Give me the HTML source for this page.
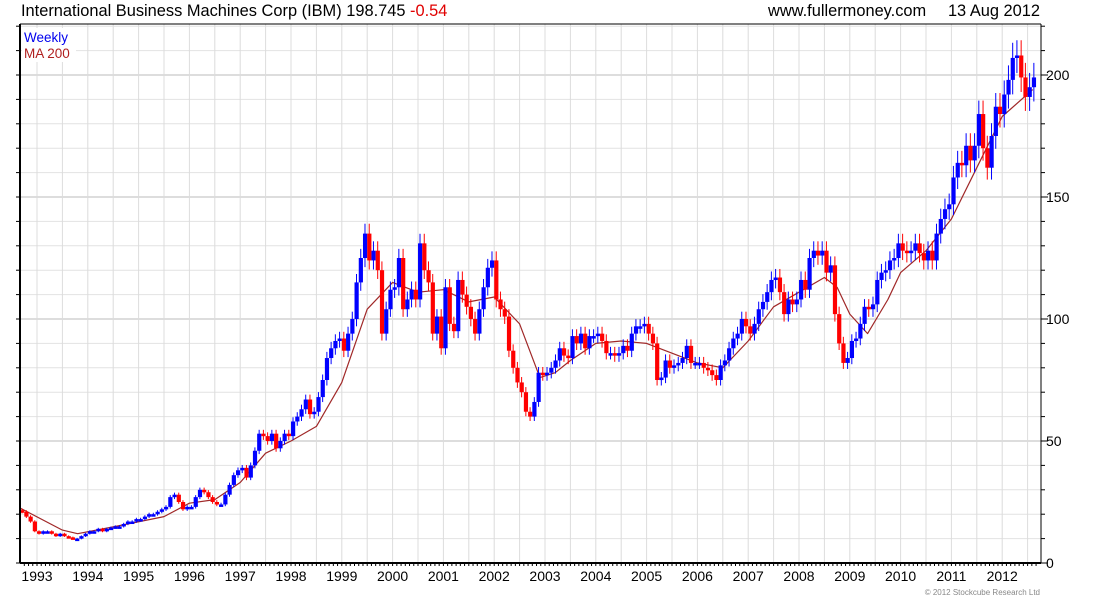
<!DOCTYPE html>
<html><head><meta charset="utf-8"><style>
body{margin:0;background:#fff;width:1100px;height:600px;overflow:hidden;font-family:"Liberation Sans",sans-serif}
svg{display:block}
</style></head><body>
<svg id="chart" width="1100" height="600" xmlns="http://www.w3.org/2000/svg">
<text x="21" y="16" font-size="16.4" fill="#000">International Business Machines Corp (IBM) 198.745 <tspan fill="#e00000">-0.54</tspan></text>
<text x="768" y="16" font-size="16.4" fill="#000">www.fullermoney.com</text>
<text x="1040" y="16" font-size="16.4" fill="#000" text-anchor="end">13 Aug 2012</text>
<g id="grid"></g>
<g id="ma"></g>
<g id="bars"></g>
<g id="axes"></g>
<rect x="22" y="28" width="54" height="34" fill="#fff"/>
<text x="24" y="42" font-size="13.5" fill="#0000ee">Weekly</text>
<text x="24" y="58" font-size="13.5" fill="#b02020">MA 200</text>
<text x="1040" y="595" font-size="8" fill="#888" text-anchor="end">© 2012 Stockcube Research Ltd</text>
</svg>
<script>
// monthly closes Sep 1992 .. Aug 2012
const closes = [
21,19,17,13,
12,13,13,12,11,12,11,10.5,10,10,11,12,
13,13,14,13,14,14.5,15,15,16,17,17,18,
18,19,20,20,21,22,23,27,28,25,22,23,
23,27,30,29,27,25,24,24,28,32,36,38,
39,35,40,46,53,52,50,53,47,50,53,52,
58,60,63,67,61,62,68,75,84,88,91,92,
87,94,100,115,125,135,124,128,120,94,104,112,
113,125,104,108,112,108,131,120,115,94,101,88,
113,98,95,116,110,105,100,94,104,113,121,124,
108,104,101,87,80,74,70,62,60,66,78,77,
78,80,83,88,85,84,93,90,94,88,93,93,
94,91,86,86,85,86,89,87,94,97,97,98,
94,90,75,76,83,80,81,82,84,89,82,82,
82,80,79,77,75,81,83,88,92,94,100,97,
94,98,104,107,111,116,117,111,102,108,106,108,
116,112,125,128,126,128,119,122,102,90,82,84,
91,92,98,105,104,106,116,119,120,124,125,131,
128,127,128,131,127,124,128,124,135,141,145,147,
158,164,163,171,165,171,184,170,162,175,187,184,
192,198,207,208,199,191,195,199];
const startYear = 1992.667;
const maDates = [1992.67,1993.5,1993.8,1994.5,1995.5,1996,1996.5,1997,1997.5,1998,1998.5,1999,1999.5,2000,2000.5,2001,2001.5,2002,2002.5,2002.9,2003.2,2003.5,2004,2004.5,2005,2005.5,2006,2006.5,2007,2007.5,2008,2008.5,2008.75,2009,2009.35,2009.75,2010,2010.5,2011,2011.5,2012,2012.6];
const maValues = [22.5,13.5,12,14.8,19,24.5,26,33,45,50,56,74,104,115,111,112,107,109,98,76,78,83,90,91,90,86,82,80,91,105,111,117,113,102,94,108,119,128,141,162,183,194];
const yTicks = [0,50,100,150,200];
const years = [1993,1994,1995,1996,1997,1998,1999,2000,2001,2002,2003,2004,2005,2006,2007,2008,2009,2010,2011,2012];

const NS="http://www.w3.org/2000/svg";
const L=20,R=1041,T=24,B=563;
const X=d=>37+(d-1993)*50.8;
const Y=v=>B-v*2.44;
function mk(parent,tag,attrs){const e=document.createElementNS(NS,tag);for(const k in attrs)e.setAttribute(k,attrs[k]);parent.appendChild(e);return e;}
const grid=document.getElementById('grid'),axes=document.getElementById('axes'),bars=document.getElementById('bars'),maG=document.getElementById('ma');
for(let v=10;v<=220;v+=10){const y=Y(v);if(y<T)break;
 const g=mk(grid,'line',{x1:L,x2:R,y1:y,y2:y,stroke:v%50===0?'#bbb':'#e2e2e2','stroke-width':1});
 
 }
for(let d=1993;d<=2012.5;d+=0.5){const x=X(d);
 const g=mk(grid,'line',{x1:x,x2:x,y1:T,y2:B,stroke:'#dcdcdc','stroke-width':1});
 
 }
let pts=maDates.map((d,i)=>X(d).toFixed(1)+','+Y(maValues[i]).toFixed(1)).join(' ');
const pl=mk(maG,'polyline',{points:pts,fill:'none',stroke:'#a02828','stroke-width':1.2,'stroke-linejoin':'round'});


closes.forEach((c,i)=>{const o=i>0?closes[i-1]:c*1.03;const x=X(startYear+i/12);
 const hi=Math.max(o,c)*1.03,lo=Math.min(o,c)*0.97;const col=c>=o?'#0000ff':'#ff0000';
 const w=mk(bars,'line',{x1:x+2,x2:x+2,y1:Y(hi),y2:Y(lo),stroke:col,'stroke-width':1});
 
 
 const top=Y(Math.max(o,c)),bot=Y(Math.min(o,c));
 const r=mk(bars,'rect',{x:x,y:top,width:4.2,height:Math.max(2.5,bot-top),fill:col});
 
 });
mk(axes,'line',{x1:L,x2:L,y1:T,y2:B,stroke:'#000','stroke-width':2});
mk(axes,'line',{x1:R,x2:R,y1:T,y2:B,stroke:'#000','stroke-width':1});
mk(axes,'line',{x1:L,x2:R,y1:T,y2:T,stroke:'#000','stroke-width':1});
mk(axes,'line',{x1:L,x2:R,y1:B,y2:B,stroke:'#000','stroke-width':2});
for(let v=0;v<=220;v+=10){const y=Y(v);if(y<T)break;const len=v%50===0?7:4;
 mk(axes,'line',{x1:R,x2:R+len,y1:y,y2:y,stroke:'#000'});
 mk(axes,'line',{x1:L-4,x2:L,y1:y,y2:y,stroke:'#000'});}
yTicks.forEach(v=>{const t=mk(axes,'text',{x:1046,y:Y(v)+5,'font-size':14,fill:'#000'});t.textContent=v;
 
 });
for(let m=0;m<12*20;m++){const x=X(1992.75+m/12);if(x>R)break;if(x<L)continue;
 mk(axes,'line',{x1:x,x2:x,y1:B,y2:B+3,stroke:'#000'});}
years.forEach(yr=>{const t=mk(axes,'text',{x:X(yr),y:581,'font-size':14,fill:'#000','text-anchor':'middle'});t.textContent=yr;
 
 });
</script>
</body></html>
